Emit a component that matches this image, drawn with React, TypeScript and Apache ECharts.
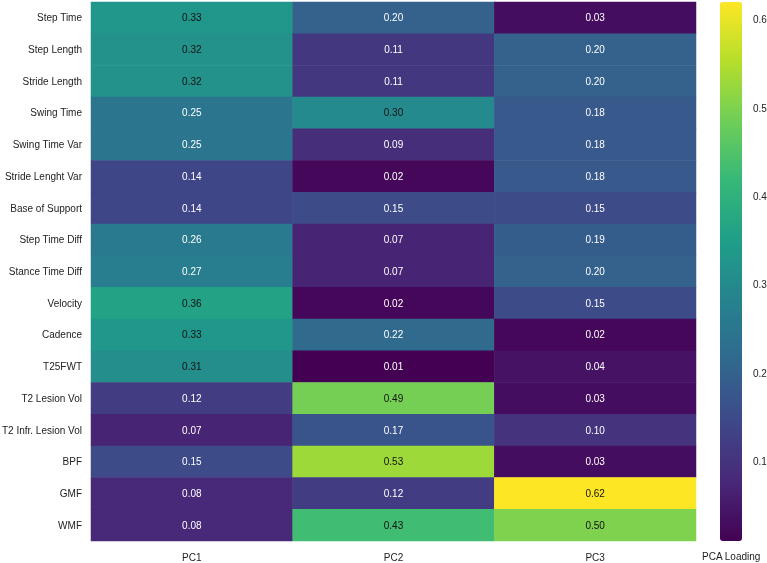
import React, { useEffect, useRef } from "react";
import * as echarts from "echarts";

const rows = [
  "Step Time",
  "Step Length",
  "Stride Length",
  "Swing Time",
  "Swing Time Var",
  "Stride Lenght Var",
  "Base of Support",
  "Step Time Diff",
  "Stance Time Diff",
  "Velocity",
  "Cadence",
  "T25FWT",
  "T2 Lesion Vol",
  "T2 Infr. Lesion Vol",
  "BPF",
  "GMF",
  "WMF",
];
const cols = ["PC1", "PC2", "PC3"];
const pc1 = [0.33, 0.32, 0.32, 0.25, 0.25, 0.14, 0.14, 0.26, 0.27, 0.36, 0.33, 0.31, 0.12, 0.07, 0.15, 0.08, 0.08];
const pc2 = [0.2, 0.11, 0.11, 0.3, 0.09, 0.02, 0.15, 0.07, 0.07, 0.02, 0.22, 0.01, 0.49, 0.17, 0.53, 0.12, 0.43];
const pc3 = [0.03, 0.2, 0.2, 0.18, 0.18, 0.18, 0.15, 0.19, 0.2, 0.15, 0.02, 0.04, 0.03, 0.1, 0.03, 0.62, 0.5];
const colorTicks = [0.1, 0.2, 0.3, 0.4, 0.5, 0.6];
const colorMin = 0.01;
const colorMax = 0.62;

const viridis = ["#440154", "#482878", "#3e4989", "#31688e", "#26828e", "#1f9e89", "#35b779", "#6ece58", "#b5de2b", "#fde725"];
const FONT = "Liberation Sans, Arial, sans-serif";
const FS = 10;

export default function App() {
  const ref = useRef<HTMLDivElement>(null);
  useEffect(() => {
    if (!ref.current) return;
    const chart = echarts.init(ref.current, null, { renderer: "svg" });
    const series = [pc1, pc2, pc3];
    const data: any[] = [];
    series.forEach((arr, ci) => {
      arr.forEach((v, ri) => {
        data.push({
          value: [ci, ri, v],
          label: { color: v >= 0.295 ? "#111111" : "#ffffff" },
        });
      });
    });
    chart.setOption({
      animation: false,
      textStyle: { fontFamily: FONT },
      grid: [
        { left: 91, top: 2, width: 605, height: 539, containLabel: false, outerBoundsMode: "none" },
        { left: 720, top: 2, width: 22, height: 539, containLabel: false, outerBoundsMode: "none" },
      ],
      xAxis: [
        {
          type: "category",
          data: cols,
          gridIndex: 0,
          axisLine: { show: false },
          axisTick: { show: false },
          axisLabel: { color: "#222", fontSize: FS, fontFamily: FONT, margin: 11 },
          splitArea: { show: false },
        },
        { type: "value", gridIndex: 1, show: false },
      ],
      yAxis: [
        {
          type: "category",
          data: rows,
          inverse: true,
          gridIndex: 0,
          axisLine: { show: false },
          axisTick: { show: false },
          axisLabel: { color: "#222", fontSize: FS, fontFamily: FONT, margin: 9 },
        },
        {
          type: "value",
          gridIndex: 1,
          position: "right",
          min: colorMin,
          max: colorMax,
          axisLine: { show: false },
          axisTick: { show: false },
          splitLine: { show: false },
          axisLabel: {
            customValues: colorTicks,
            color: "#222",
            fontSize: FS,
            fontFamily: FONT,
            margin: 11,
            formatter: (v: number) => v.toFixed(1),
          },
        },
      ],
      visualMap: {
        type: "continuous",
        min: colorMin,
        max: colorMax,
        seriesIndex: 0,
        dimension: 2,
        calculable: false,
        left: 720,
        top: 2,
        itemWidth: 22,
        itemHeight: 539,
        text: ["", ""],
        showLabel: false,
        padding: 0,
        inRange: { color: viridis },
      },
      graphic: [
        {
          type: "text",
          left: 702,
          top: 551,
          style: { text: "PCA Loading", fontSize: FS, fontFamily: FONT, fill: "#222" },
        },
      ],
      series: [
        {
          type: "heatmap",
          xAxisIndex: 0,
          yAxisIndex: 0,
          data,
          label: {
            show: true,
            fontSize: FS,
            fontFamily: FONT,
            formatter: (p: any) => p.value[2].toFixed(2),
          },
          itemStyle: { borderWidth: 0 },
          emphasis: { disabled: true },
        },
      ],
    });
    return () => chart.dispose();
  }, []);
  return <div ref={ref} style={{ position: "fixed", left: 0, top: 0, width: 767, height: 563 }} />;
}
